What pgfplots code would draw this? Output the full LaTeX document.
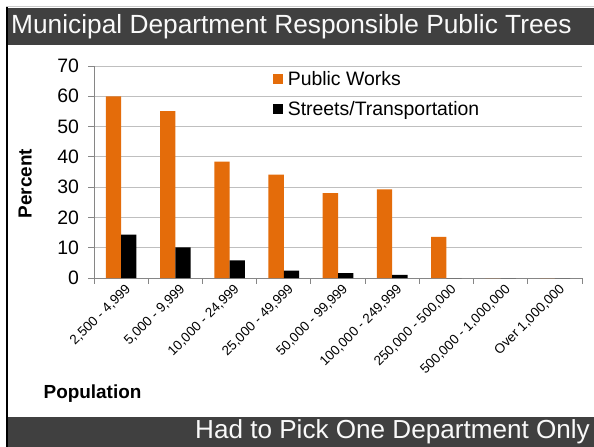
\documentclass[border=0pt]{standalone}
\usepackage{pgfplots}
\pgfplotsset{compat=1.18}
\usepackage{fontspec}
\setmainfont{Liberation Sans}
\definecolor{pworange}{HTML}{E46C0A}
\definecolor{band}{HTML}{404040}
\definecolor{gridgray}{HTML}{BFBFBF}
\definecolor{axisgray}{HTML}{868686}

\begin{document}
\begin{tikzpicture}
% page frame
\useasboundingbox (0bp,0bp) rectangle (594bp,-447bp);
\fill[white] (0bp,0bp) rectangle (594bp,-447bp);
\draw[gray!40, line width=1bp] (6bp,-6.5bp) -- (594bp,-6.5bp);
\fill[band] (7bp,-7.5bp) rectangle (594bp,-45bp);
\fill[band] (7bp,-417bp) rectangle (594bp,-447bp);
\draw[black, line width=2.5bp] (7bp,-7bp) -- (7bp,-447bp);
\node[anchor=west, text=white!95!gray, inner sep=0pt, font=\fontsize{26.4}{30}\selectfont]
  at (11bp,-26.5bp) {Municipal Department Responsible Public Trees};
\node[anchor=east, text=white!95!gray, inner sep=0pt, font=\fontsize{26.2}{30}\selectfont]
  at (590bp,-432bp) {Had to Pick One Department Only};

\begin{axis}[
    at={(94bp,-278bp)}, anchor=south west,
    scale only axis, width=488bp, height=212bp,
    ymin=0, ymax=70, ytick={0,10,...,70},
    xmin=-0.5, xmax=8.5,
    xtick={-0.5,0.5,...,8.5},
    x tick label as interval,
    xticklabels={{2,500 - 4,999},{5,000 - 9,999},{10,000 - 24,999},{25,000 - 49,999},
                 {50,000 - 99,999},{100,000 - 249,999},{250,000 - 500,000},
                 {500,000 - 1,000,000},{Over 1,000,000}},
    ybar=0pt, bar width=15.3bp,
    axis x line*=bottom, axis y line*=left,
    axis line style={axisgray, line width=0.8bp},
    tick style={axisgray, line width=0.8bp},
    tick align=outside, major tick length=5.5bp,
    ymajorgrids, grid style={gridgray, line width=0.8bp},
    /pgf/number format/assume math mode=true,
    yticklabel style={font=\fontsize{19.5}{22}\selectfont, xshift=-6bp},
    xticklabel style={font=\fontsize{13.5}{16}\selectfont, rotate=45, anchor=north east,
                      inner sep=1bp, xshift=4bp, yshift=-1bp},
    ylabel={Percent}, xlabel={Population},
    label style={font=\bfseries\fontsize{19}{22}\selectfont},
    ylabel style={at={(axis description cs:-0.141,0.446)}, anchor=center},
    xlabel style={at={(axis description cs:-0.003,-0.545)}, anchor=center},
    legend style={at={(axis description cs:0.366,0.975)}, anchor=north west,
                  draw=none, fill=none, font=\fontsize{19.5}{22}\selectfont,
                  row sep=14.5bp, inner sep=0pt,
                  nodes={inner xsep=5bp, inner ysep=0bp}},
    legend cell align=left,
    legend image code/.code={\fill[#1] (0bp,-5bp) rectangle (10bp,5bp);},
]
\addplot[fill=pworange, draw=none] coordinates
  {(0,60) (1,55.1) (2,38.4) (3,34.1) (4,28) (5,29.3) (6,13.6) (7,0) (8,0)};
\addplot[fill=black, draw=none] coordinates
  {(0,14.3) (1,10.1) (2,5.8) (3,2.4) (4,1.6) (5,1.0) (6,0) (7,0) (8,0)};
\legend{Public Works, Streets/Transportation}
\end{axis}
\end{tikzpicture}
\end{document}
